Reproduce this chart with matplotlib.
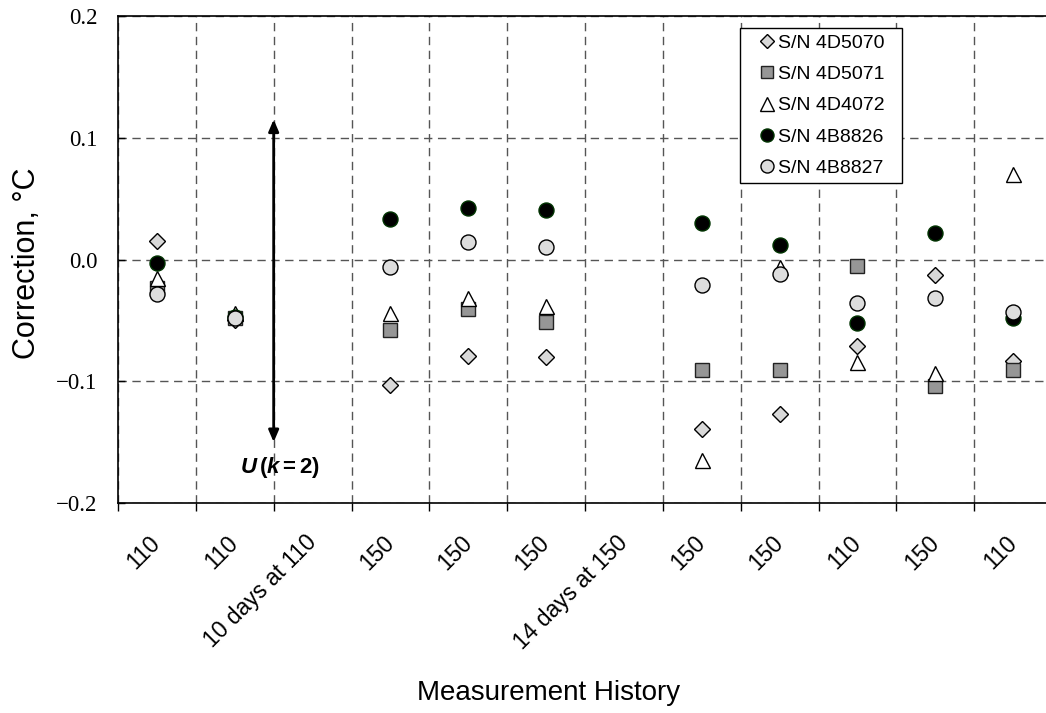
import numpy as np
import matplotlib
matplotlib.use('Agg')
import matplotlib.pyplot as plt

plt.rcParams['font.family'] = ['Liberation Sans', 'DejaVu Sans']
plt.rcParams['mathtext.fontset'] = 'custom'
plt.rcParams['mathtext.rm'] = 'Liberation Sans'
plt.rcParams['mathtext.bf'] = 'Liberation Sans:bold'
plt.rcParams['mathtext.it'] = 'Liberation Sans:italic'
plt.rcParams['mathtext.bfit'] = 'Liberation Sans:bold:italic'

# measurement history (x categories)
categories = ['110', '110', '10 days at 110', '150', '150', '150', '14 days at 150',
              '150', '150', '110', '150', '110']
nan = np.nan
sn_4d5070 = [0.015, -0.050, nan, -0.103, -0.079, -0.080, nan, -0.139, -0.127, -0.071, -0.013, -0.083]
sn_4d5071 = [-0.023, -0.048, nan, -0.058, -0.041, -0.051, nan, -0.091, -0.091, -0.005, -0.104, -0.091]
sn_4d4072 = [-0.015, -0.044, nan, -0.044, -0.032, -0.038, nan, -0.165, -0.006, -0.084, -0.093, 0.070]
sn_4b8826 = [-0.003, -0.047, nan, 0.033, 0.042, 0.041, nan, 0.030, 0.012, -0.052, 0.022, -0.048]
sn_4b8827 = [-0.028, -0.048, nan, -0.006, 0.014, 0.010, nan, -0.021, -0.012, -0.036, -0.032, -0.043]

yticks = [-0.2, -0.1, 0.0, 0.1, 0.2]
ytick_labels = ['\u22120.2', '\u22120.1', '0.0', '0.1', '0.2']

# expanded uncertainty bar
u_x = 2
u_top, u_bottom = 0.115, -0.150

fig = plt.figure(figsize=(10.46, 7.13), dpi=100)
ax = fig.add_axes([118 / 1046, 1 - 503 / 713, 934 / 1046, 487 / 713])

xs = np.arange(len(categories)) + 0.5
ms = 10.8
ax.plot(xs, sn_4d5070, ls='none', marker='D', ms=ms / 1.414, mfc='#d9d9d9', mec='black', mew=1.0, label='S/N 4D5070')
ax.plot(xs, sn_4d5071, ls='none', marker='s', ms=ms * 0.98, mfc='#969696', mec='#222222', mew=1.0, label='S/N 4D5071')
ax.plot(xs, sn_4d4072, ls='none', marker='^', ms=ms, mfc='white', mec='black', mew=1.0, label='S/N 4D4072')
ax.plot(xs, sn_4b8826, ls='none', marker='o', ms=ms, mfc='black', mec='#003300', mew=1.0, label='S/N 4B8826')
ax.plot(xs, sn_4b8827, ls='none', marker='o', ms=ms, mfc='#dddddd', mec='black', mew=1.0, label='S/N 4B8827')

ax.annotate('', xy=(u_x, u_top), xytext=(u_x, u_bottom),
            arrowprops=dict(arrowstyle='<|-|>,head_width=0.3,head_length=0.7', color='black', lw=2,
                            shrinkA=0, shrinkB=0))
ax.text(u_x + 0.08, -0.171, r'$\mathbfit{U}\,\mathbf{(}\mathbfit{k}\mathbf{=2)}$',
        ha='center', va='center', fontsize=16)

ax.set_xlim(0, len(categories))
ax.set_ylim(-0.2, 0.2)

ax.set_xticks(np.arange(len(categories) + 1))
ax.set_xticklabels([])
ax.set_xticks(xs, categories, minor=True)
ax.tick_params(axis='x', which='major', direction='out', length=6, width=1)
ax.tick_params(axis='x', which='minor', length=0, pad=26, labelsize=16.5)
for lab in ax.get_xticklabels(minor=True):
    lab.set_rotation(45)
    lab.set_ha('right')
    lab.set_va('center')
    lab.set_rotation_mode('anchor')

ax.set_yticks(yticks, ytick_labels)
ax.tick_params(axis='y', direction='in', length=5, width=1, pad=15, labelsize=16.5)
for lab in ax.get_yticklabels():
    lab.set_fontfamily('Liberation Serif')

ax.set_axisbelow(True)
ax.grid(True, which='major', color='#555555', lw=1, ls=(0, (6, 4)))

for s in ax.spines.values():
    s.set_linewidth(1.2)

ax.set_ylabel('Correction, \u00b0C', fontsize=22)
ax.yaxis.set_label_coords(-0.081, 0.493)
ax.set_xlabel('Measurement History', fontsize=20)
ax.xaxis.set_label_coords(0.461, -0.363)

leg = ax.legend(loc='upper left', bbox_to_anchor=(0.666, 0.5, 0.1734, 0.475), mode='expand',
                fontsize=14, frameon=True, fancybox=False, edgecolor='black', framealpha=1,
                handlelength=2.2, handletextpad=-0.53, borderpad=0.3, labelspacing=0.71,
                markerscale=0.87, borderaxespad=0)
leg.get_frame().set_linewidth(1.0)

fig.savefig('out.png', dpi=100)
